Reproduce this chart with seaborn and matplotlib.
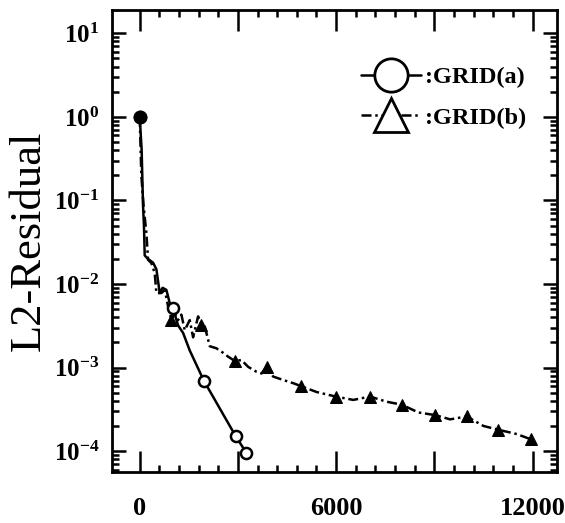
import matplotlib
matplotlib.use('Agg')
import matplotlib.pyplot as plt
import seaborn as sns
import pandas as pd
import numpy as np
from matplotlib.lines import Line2D
from matplotlib.ticker import FixedLocator, FuncFormatter, LogLocator, NullFormatter

# Data (iterations vs L2-residual)
grid_a_x = [0, 60, 100, 130, 153, 250, 408, 510, 612, 700, 816, 918, 1020, 1172, 1325, 1529, 1957, 2936, 3262]
grid_a_y = [1.0, 0.4, 0.09, 0.05, 0.022, 0.02, 0.018, 0.015, 0.0078, 0.009, 0.0085, 0.0059, 0.0051, 0.0032, 0.0026, 0.0016, 7.0e-4, 1.5e-4, 9.5e-5]
grid_a_marks = [0, 12, 16, 17, 18]

grid_b_x = [0, 50, 120, 204, 255, 357, 459, 510, 663, 765, 867, 970, 1070, 1172, 1274, 1376, 1529,
            1631, 1784, 1886, 1988, 2141, 2345, 2548, 2701, 2906, 3109, 3313, 3568, 3721, 3874, 4078,
            4384, 4690, 4924, 5403, 5984, 6525, 7034, 7544, 8003, 8513, 9023, 9482, 9991, 10501,
            10960, 11520, 11958]
grid_b_y = [1.0, 0.2, 0.085, 0.041, 0.0195, 0.0178, 0.0135, 0.0078, 0.0078, 0.0085, 0.0054, 0.0037,
            0.0045, 0.0037, 0.0043, 0.0028, 0.0037, 0.0023, 0.0041, 0.0032, 0.0031, 0.0018, 0.0017,
            0.0015, 0.00135, 0.0012, 0.00123, 0.00102, 0.00089, 0.00085, 0.00102, 0.00078, 0.00071,
            0.00065, 0.0006, 0.00051, 0.00045, 0.00041, 0.00045, 0.00039, 0.00036, 0.00029, 0.00027,
            0.00024, 0.00026, 0.0002, 0.00018, 0.00016, 0.000138]
grid_b_marks = [11, 19, 25, 30, 34, 36, 38, 40, 42, 44, 46, 48]

x_ticks = [0, 3000, 6000, 9000, 12000]
x_labels = {0: '0', 6000: '6000', 12000: '12000'}

sns.set_style('ticks')
plt.rcParams['font.family'] = ['Liberation Serif', 'DejaVu Serif']
plt.rcParams['mathtext.fontset'] = 'custom'
plt.rcParams['mathtext.rm'] = 'Liberation Serif:bold'
plt.rcParams['mathtext.bf'] = 'Liberation Serif:bold'
for k in ['text.color', 'axes.labelcolor', 'xtick.color', 'ytick.color', 'axes.edgecolor']:
    plt.rcParams[k] = 'black'

fig = plt.figure(figsize=(5.65, 5.23), dpi=100)
ax = fig.add_axes([0.198, 0.0975, 0.788, 0.8835])

df_a = pd.DataFrame({'x': grid_a_x, 'y': grid_a_y})
df_b = pd.DataFrame({'x': grid_b_x, 'y': grid_b_y})

dashdot = (0, (4, 1.5, 1, 1.5))
sns.lineplot(data=df_b, x='x', y='y', ax=ax, sort=False, color='black', lw=1.8,
             linestyle=dashdot, marker='^', markevery=grid_b_marks,
             markersize=8, markerfacecolor='black', markeredgecolor='black')
sns.lineplot(data=df_a, x='x', y='y', ax=ax, sort=False, color='black', lw=1.8,
             marker='o', markevery=grid_a_marks, markersize=8,
             markerfacecolor='white', markeredgecolor='black', markeredgewidth=1.8)
# filled starting point
ax.plot(grid_a_x[:1], grid_a_y[:1], 'o', color='black', ms=9)

ax.set_yscale('log')
ax.set_xlim(-850, 12750)
ax.set_ylim(10 ** -4.25, 10 ** 1.28)

ax.xaxis.set_major_locator(FixedLocator(x_ticks))
ax.xaxis.set_minor_locator(FixedLocator(np.arange(0, 12001, 600)))
ax.xaxis.set_major_formatter(FuncFormatter(lambda v, p: x_labels.get(int(round(v)), '')))
ax.yaxis.set_major_locator(FixedLocator([1e-4, 1e-3, 1e-2, 1e-1, 1e0, 1e1]))
ax.yaxis.set_minor_locator(LogLocator(base=10, subs=np.arange(2, 10), numticks=20))
ax.yaxis.set_minor_formatter(NullFormatter())
ax.yaxis.set_major_formatter(FuncFormatter(lambda v, p: r'$\mathbf{10^{%d}}$' % int(round(np.log10(v)))))

ax.tick_params(which='both', direction='in', top=True, right=True, width=1.8)
ax.tick_params(axis='x', which='major', length=15, labelsize=19, pad=18)
ax.tick_params(axis='x', which='minor', length=5)
ax.tick_params(axis='y', which='major', length=10, labelsize=18, pad=9)
ax.tick_params(axis='y', which='minor', length=5)
for lab in ax.get_xticklabels():
    lab.set_fontweight('bold')
for s in ax.spines.values():
    s.set_linewidth(2.0)

ax.set_xlabel('')
ax.set_ylabel('L2-Residual', fontsize=32, labelpad=4)

handles = [Line2D([], [], color='black', lw=1.8, marker='o', ms=24, mfc='white', mew=2),
           Line2D([], [], color='black', lw=1.8, linestyle=dashdot, marker='^',
                  ms=24, mfc='white', mew=2)]
ax.legend(handles, [':GRID(a)', ':GRID(b)'], loc='upper right', bbox_to_anchor=(0.98, 0.925),
          frameon=False, handlelength=2.5, handletextpad=0.15, labelspacing=0.75,
          prop={'size': 17.5, 'weight': 'bold'})

plt.savefig('out.png', dpi=100)
